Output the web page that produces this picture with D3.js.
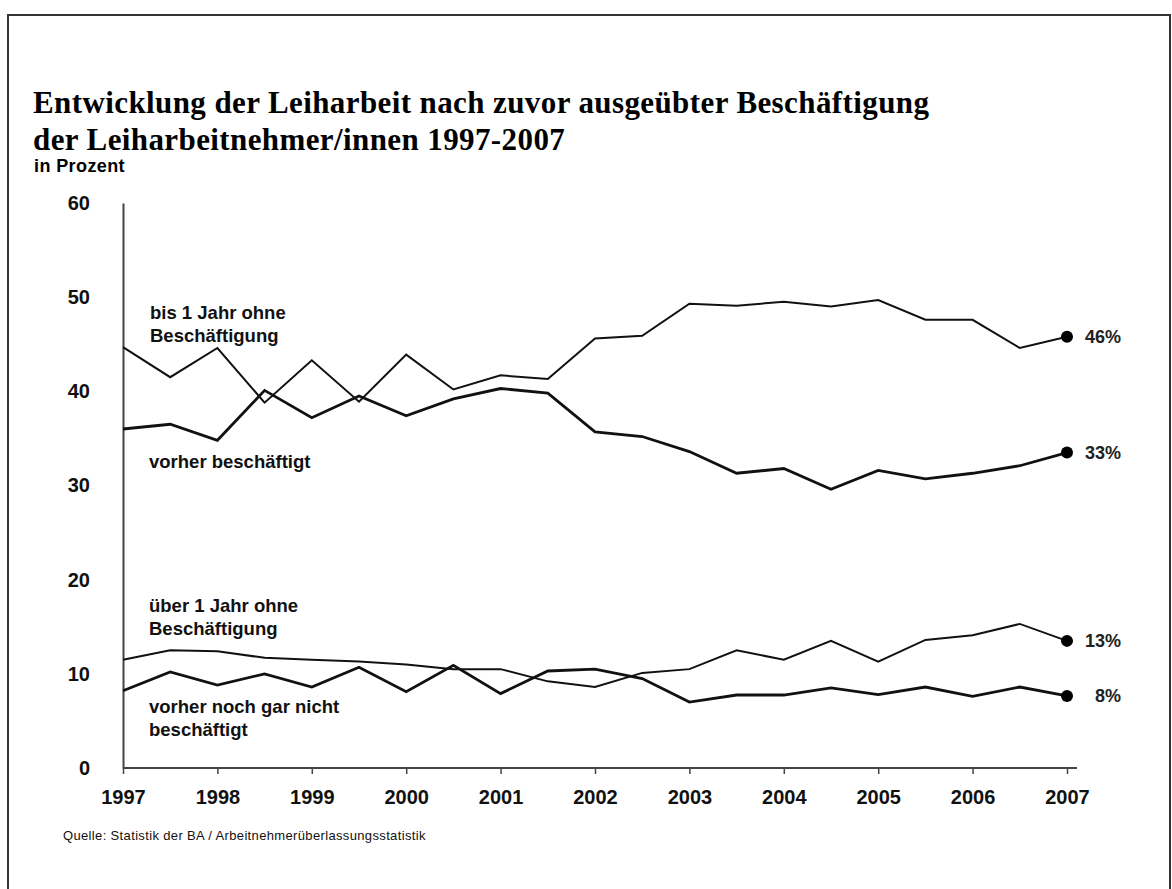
<!DOCTYPE html>
<html>
<head>
<meta charset="utf-8">
<script src="https://cdn.jsdelivr.net/npm/d3@7"></script>
<style>
  body { margin: 0; background: #fff; }
  svg { display: block; }
</style>
</head>
<body>
<svg id="chart"></svg>
<script>
// half-year points 1997 .. 2007
const periods = [1997, 1997.5, 1998, 1998.5, 1999, 1999.5, 2000, 2000.5, 2001, 2001.5, 2002,
                 2002.5, 2003, 2003.5, 2004, 2004.5, 2005, 2005.5, 2006, 2006.5, 2007];
const yearTicks = [1997, 1998, 1999, 2000, 2001, 2002, 2003, 2004, 2005, 2006, 2007];
const valueTicks = [0, 10, 20, 30, 40, 50, 60];

const bisEinJahr = [44.7, 41.5, 44.6, 38.8, 43.3, 38.9, 43.9, 40.2, 41.7, 41.3, 45.6,
                    45.9, 49.3, 49.1, 49.5, 49.0, 49.7, 47.6, 47.6, 44.6, 45.8];
const vorherBeschaeftigt = [36.0, 36.5, 34.8, 40.1, 37.2, 39.5, 37.4, 39.2, 40.3, 39.8, 35.7,
                            35.2, 33.6, 31.3, 31.8, 29.6, 31.6, 30.7, 31.3, 32.1, 33.5];
const ueberEinJahr = [11.5, 12.5, 12.4, 11.7, 11.5, 11.3, 11.0, 10.5, 10.5, 9.2, 8.6,
                      10.1, 10.5, 12.5, 11.5, 13.5, 11.3, 13.6, 14.1, 15.3, 13.5];
const nochNichtBeschaeftigt = [8.2, 10.2, 8.8, 10.0, 8.6, 10.7, 8.1, 10.9, 7.9, 10.3, 10.5,
                               9.5, 7.0, 7.75, 7.75, 8.5, 7.8, 8.6, 7.6, 8.6, 7.65];
const endLabels = ["46%", "33%", "13%", "8%"];

const W = 1172, H = 889;
const svg = d3.select("#chart").attr("width", W).attr("height", H);

// frame
svg.append("rect").attr("x", 8).attr("y", 15).attr("width", 1162).attr("height", 890)
  .attr("fill", "none").attr("stroke", "#333").attr("stroke-width", 2);

// title
const title = svg.append("text")
  .attr("font-family", "'Liberation Serif', 'Times New Roman', serif")
  .attr("font-weight", "bold").attr("font-size", 31).attr("letter-spacing", 0.4)
  .attr("fill", "#000");
title.append("tspan").attr("x", 33).attr("y", 113)
  .text("Entwicklung der Leiharbeit nach zuvor ausgeübter Beschäftigung");
title.append("tspan").attr("x", 33).attr("y", 150)
  .text("der Leiharbeitnehmer/innen 1997-2007");

const sans = "'Liberation Sans', Arial, sans-serif";

svg.append("text").attr("x", 34).attr("y", 172)
  .attr("font-family", sans).attr("font-weight", "bold").attr("font-size", 18)
  .attr("letter-spacing", 0.4).text("in Prozent");

const x = d3.scaleLinear().domain([1997, 2007]).range([123, 1067]);
const y = d3.scaleLinear().domain([0, 60]).range([768, 203]);

// y axis
const yAxis = svg.append("g").attr("transform", "translate(123,0)")
  .call(d3.axisLeft(y).tickValues(valueTicks).tickSize(0).tickPadding(33));
yAxis.select(".domain").attr("stroke", "#444").attr("stroke-width", 2);
yAxis.selectAll("text").attr("font-family", sans).attr("font-weight", "bold")
  .attr("font-size", 20).attr("fill", "#111");

// x axis
const xAxis = svg.append("g").attr("transform", "translate(0,768)")
  .call(d3.axisBottom(x).tickValues(yearTicks).tickFormat(d3.format("d"))
        .tickSize(6).tickSizeOuter(0).tickPadding(16));
xAxis.select(".domain").remove();
xAxis.append("line").attr("x1", x(1997)).attr("x2", x(2007) + 10)
  .attr("stroke", "#444").attr("stroke-width", 2);
xAxis.selectAll(".tick line").attr("stroke", "#444").attr("stroke-width", 1.5);
xAxis.selectAll("text").attr("font-family", sans).attr("font-weight", "bold")
  .attr("font-size", 20).attr("fill", "#111");

// series
const series = [
  { values: bisEinJahr, width: 2, label: endLabels[0] },
  { values: vorherBeschaeftigt, width: 2.8, label: endLabels[1] },
  { values: ueberEinJahr, width: 2, label: endLabels[2] },
  { values: nochNichtBeschaeftigt, width: 2.8, label: endLabels[3] }
];

const line = d3.line().x((d, i) => x(periods[i])).y(d => y(d));

series.forEach(s => {
  svg.append("path").attr("d", line(s.values))
    .attr("fill", "none").attr("stroke", "#111").attr("stroke-width", s.width)
    .attr("stroke-linejoin", "miter");
  const last = s.values[s.values.length - 1];
  svg.append("circle").attr("cx", x(2007)).attr("cy", y(last)).attr("r", 6).attr("fill", "#000");
  svg.append("text").attr("x", 1121).attr("y", y(last)).attr("dy", "0.35em")
    .attr("text-anchor", "end").attr("font-family", sans).attr("font-weight", "bold")
    .attr("font-size", 18).attr("fill", "#222").text(s.label);
});

// series labels
const labels = [
  { lines: ["bis 1 Jahr ohne", "Beschäftigung"], x: 150, y: 319 },
  { lines: ["vorher beschäftigt"], x: 149, y: 468 },
  { lines: ["über 1 Jahr ohne", "Beschäftigung"], x: 149, y: 612 },
  { lines: ["vorher noch gar nicht", "beschäftigt"], x: 149, y: 713 }
];
labels.forEach(l => {
  const t = svg.append("text").attr("font-family", sans).attr("font-weight", "bold")
    .attr("font-size", 18.5).attr("fill", "#111");
  l.lines.forEach((s, i) => t.append("tspan").attr("x", l.x).attr("y", l.y + i * 23).text(s));
});

// source
svg.append("text").attr("x", 63).attr("y", 840)
  .attr("font-family", sans).attr("font-size", 13).attr("letter-spacing", 0.35).attr("fill", "#111")
  .text("Quelle: Statistik der BA / Arbeitnehmerüberlassungsstatistik");
</script>
</body>
</html>
